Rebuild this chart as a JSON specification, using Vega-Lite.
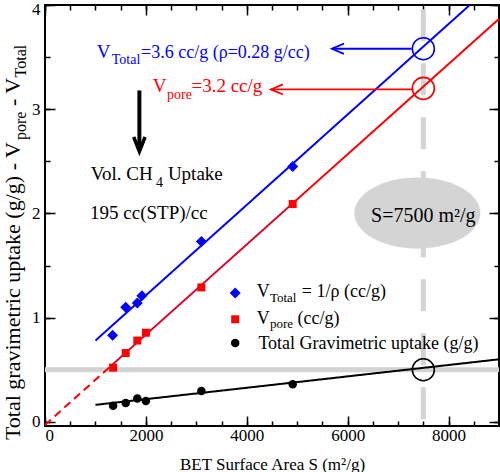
{
  "$schema": "https://vega.github.io/schema/vega-lite/v6.json",
  "width": 454,
  "height": 421,
  "autosize": {"type": "none"},
  "padding": {"left": 45, "top": 5, "right": 1, "bottom": 46},
  "background": "white",
  "config": {
    "font": "Liberation Serif",
    "view": {"stroke": "#000000", "strokeWidth": 2},
    "text": {"font": "Liberation Serif"},
    "axis": {
      "grid": false, "domain": false,
      "labelFont": "Liberation Serif", "labelFontSize": 17, "labelColor": "#000000",
      "tickColor": "#000000", "tickWidth": 1.5,
      "titleFont": "Liberation Serif", "titleFontSize": 17, "titleFontWeight": "normal", "titleColor": "#000000"
    }
  },
  "resolve": {"axis": {"x": "independent", "y": "independent"}},
  "datasets": {
    "pts": [
      {"S": 1340, "v": 0.83, "s": "Total"}, {"S": 1600, "v": 1.10, "s": "Total"}, {"S": 1830, "v": 1.14, "s": "Total"},
      {"S": 1920, "v": 1.21, "s": "Total"}, {"S": 3100, "v": 1.73, "s": "Total"}, {"S": 4910, "v": 2.45, "s": "Total"},
      {"S": 1350, "v": 0.52, "s": "pore"}, {"S": 1600, "v": 0.66, "s": "pore"}, {"S": 1830, "v": 0.78, "s": "pore"},
      {"S": 2000, "v": 0.855, "s": "pore"}, {"S": 3100, "v": 1.29, "s": "pore"}, {"S": 4910, "v": 2.09, "s": "pore"},
      {"S": 1350, "v": 0.155, "s": "uptake"}, {"S": 1600, "v": 0.18, "s": "uptake"}, {"S": 1830, "v": 0.225, "s": "uptake"},
      {"S": 2000, "v": 0.20, "s": "uptake"}, {"S": 3100, "v": 0.295, "s": "uptake"}, {"S": 4910, "v": 0.36, "s": "uptake"},
      {"S": 3770, "v": 1.236, "s": "Total"}, {"S": 3770, "v": 0.984, "s": "pore"}, {"S": 3770, "v": 0.757, "s": "uptake"}
    ],
    "lns": [
      {"seg": "blue", "s": "Total", "part": "fit", "S": 1000, "v": 0.78}, {"seg": "blue", "s": "Total", "part": "fit", "S": 8420, "v": 4.0},
      {"seg": "redd", "s": "pore", "part": "extrapolated", "S": 0, "v": -0.03}, {"seg": "redd", "s": "pore", "part": "extrapolated", "S": 1290, "v": 0.529},
      {"seg": "red", "s": "pore", "part": "fit", "S": 1290, "v": 0.529}, {"seg": "red", "s": "pore", "part": "fit", "S": 9000, "v": 3.867},
      {"seg": "blk", "s": "uptake", "part": "fit", "S": 1000, "v": 0.163}, {"seg": "blk", "s": "uptake", "part": "fit", "S": 9000, "v": 0.6}
    ],
    "txt": [
      {"x": 1026, "y": 3.496, "t": "V", "s": "Total", "role": "ann"},
      {"x": 1323, "y": 3.433, "t": "Total", "s": "Total", "role": "annsub"},
      {"x": 1905, "y": 3.496, "t": "=3.6 cc/g (ρ=0.28 g/cc)", "s": "Total", "role": "annb"},
      {"x": 2137, "y": 3.161, "t": "V", "s": "pore", "role": "ann"},
      {"x": 2419, "y": 3.10, "t": "pore", "s": "pore", "role": "annsub"},
      {"x": 2903, "y": 3.161, "t": "=3.2 cc/g", "s": "pore", "role": "ann"},
      {"x": 907, "y": 2.323, "t": "Vol. CH", "s": "uptake", "role": "ann"},
      {"x": 2202, "y": 2.258, "t": "4", "s": "uptake", "role": "annsub"},
      {"x": 2436, "y": 2.323, "t": "Uptake", "s": "uptake", "role": "ann"},
      {"x": 893, "y": 1.951, "t": "195 cc(STP)/cc", "s": "uptake", "role": "ann"},
      {"x": 4200, "y": 1.197, "t": "V", "s": "uptake", "role": "leg"},
      {"x": 4458, "y": 1.147, "t": "Total", "s": "uptake", "role": "legsub"},
      {"x": 5091, "y": 1.197, "t": "= 1/ρ (cc/g)", "s": "uptake", "role": "leg"},
      {"x": 4200, "y": 0.9425, "t": "V", "s": "uptake", "role": "leg"},
      {"x": 4458, "y": 0.897, "t": "pore", "s": "uptake", "role": "legsub"},
      {"x": 5006, "y": 0.9425, "t": "(cc/g)", "s": "uptake", "role": "leg"},
      {"x": 4230, "y": 0.703, "t": "Total Gravimetric uptake (g/g)", "s": "uptake", "role": "leg"},
      {"x": 7500, "y": 1.916, "t": "S=7500 m²/g", "s": "uptake", "role": "ell"},
      {"x": -496, "y": -0.175, "t": "Total gravimetric uptake (g/g) - V", "s": "uptake", "role": "yt"},
      {"x": -377, "y": 2.704, "t": "pore", "s": "uptake", "role": "ytsub"},
      {"x": -496, "y": 3.030, "t": "- V", "s": "uptake", "role": "yt"},
      {"x": -377, "y": 3.305, "t": "Total", "s": "uptake", "role": "ytsub"}
    ]
  },
  "layer": [
    {
      "data": {"values": [{"v": 0.5}]},
      "mark": {"type": "rule", "color": "#d3d3d3", "strokeWidth": 5},
      "encoding": {
        "y": {"field": "v", "type": "quantitative", "scale": {"domain": [-0.04, 4], "nice": false, "zero": false},
              "axis": {"orient": "left", "values": [0, 1, 2, 3, 4], "tickSize": -10, "labelPadding": 15, "title": null,
                       "labelFlush": 1, "labelFlushOffset": 4,
                       "labelFont": "Liberation Serif", "labelFontSize": 17}}
      }
    },
    {
      "data": {"values": [{"S": 7500, "v": 3.96, "v2": 0}]},
      "mark": {"type": "rule", "color": "#d3d3d3", "strokeWidth": 5, "strokeDash": [32, 22]},
      "encoding": {
        "x": {"field": "S", "type": "quantitative", "scale": {"domain": [0, 9000], "nice": false, "zero": false},
              "axis": {"orient": "bottom", "values": [0, 2000, 4000, 6000, 8000], "format": "d", "tickSize": -10, "labelPadding": 11,
                       "labelFont": "Liberation Serif", "labelFontSize": 17,
                       "title": "BET Surface Area S (m²/g)", "titlePadding": 13, "titleFont": "Liberation Serif", "titleFontSize": 17, "titleFontWeight": "normal"}},
        "y": {"field": "v", "type": "quantitative", "scale": {"domain": [-0.04, 4], "nice": false, "zero": false}, "axis": null},
        "y2": {"field": "v2"}
      }
    },
    {
      "data": {"values": [{"S": 7381, "v": 2.004}]},
      "mark": {"type": "point", "shape": "M-1,0A1,0.565,0,1,1,1,0A1,0.565,0,1,1,-1,0Z", "size": 15876, "filled": true, "color": "#d4d4d4", "opacity": 1},
      "encoding": {
        "x": {"field": "S", "type": "quantitative", "scale": {"domain": [0, 9000], "nice": false, "zero": false},
              "axis": {"orient": "bottom", "values": [0, 500, 1000, 1500, 2000, 2500, 3000, 3500, 4000, 4500, 5000, 5500, 6000, 6500, 7000, 7500, 8000, 8500, 9000], "tickSize": -5, "labels": false, "title": null}},
        "y": {"field": "v", "type": "quantitative", "scale": {"domain": [-0.04, 4], "nice": false, "zero": false},
              "axis": {"orient": "left", "values": [0, 0.5, 1, 1.5, 2, 2.5, 3, 3.5, 4], "tickSize": -5, "labels": false, "title": null}}
      }
    },
    {
      "data": {"name": "lns"},
      "mark": {"type": "line", "strokeWidth": 2},
      "encoding": {
        "x": {"field": "S", "type": "quantitative", "scale": {"domain": [0, 9000], "nice": false, "zero": false},
              "axis": {"orient": "top", "values": [0, 2000, 4000, 6000, 8000], "tickSize": -10, "labels": false, "title": null}},
        "y": {"field": "v", "type": "quantitative", "scale": {"domain": [-0.04, 4], "nice": false, "zero": false},
              "axis": {"orient": "right", "values": [0, 1, 2, 3, 4], "tickSize": -10, "labels": false, "title": null}},
        "detail": {"field": "seg"},
        "color": {"field": "s", "type": "nominal", "scale": {"domain": ["Total", "pore", "uptake", "overlay"], "range": ["#0000ff", "#ff0000", "#000000", "#8b1a8b"]}, "legend": null},
        "strokeDash": {"field": "part", "type": "nominal", "scale": {"domain": ["fit", "extrapolated"], "range": [[1, 0], [8, 5]]}, "legend": null}
      }
    },
    {
      "data": {"values": [{"S": 1290, "v": 0.529, "s": "overlay"}, {"S": 4910, "v": 2.096, "s": "overlay"}]},
      "mark": {"type": "line", "strokeWidth": 0.8},
      "encoding": {
        "x": {"field": "S", "type": "quantitative", "scale": {"domain": [0, 9000], "nice": false, "zero": false},
              "axis": {"orient": "top", "values": [0, 500, 1000, 1500, 2000, 2500, 3000, 3500, 4000, 4500, 5000, 5500, 6000, 6500, 7000, 7500, 8000, 8500, 9000], "tickSize": -5, "labels": false, "title": null}},
        "y": {"field": "v", "type": "quantitative", "scale": {"domain": [-0.04, 4], "nice": false, "zero": false},
              "axis": {"orient": "right", "values": [0, 0.5, 1, 1.5, 2, 2.5, 3, 3.5, 4], "tickSize": -5, "labels": false, "title": null}},
        "color": {"field": "s", "type": "nominal", "scale": {"domain": ["Total", "pore", "uptake", "overlay"], "range": ["#0000ff", "#ff0000", "#000000", "#8b1a8b"]}, "legend": null}
      }
    },
    {
      "data": {"values": [{"S": 5688, "S2": 7270, "v": 3.58, "s": "Total"}, {"S": 4478, "S2": 7290, "v": 3.19, "s": "pore"}]},
      "mark": {"type": "rule", "strokeWidth": 1.8},
      "encoding": {
        "x": {"field": "S", "type": "quantitative", "scale": {"domain": [0, 9000], "nice": false, "zero": false}, "axis": null},
        "x2": {"field": "S2"},
        "y": {"field": "v", "type": "quantitative", "scale": {"domain": [-0.04, 4], "nice": false, "zero": false}, "axis": null},
        "color": {"field": "s", "type": "nominal", "scale": {"domain": ["Total", "pore", "uptake", "overlay"], "range": ["#0000ff", "#ff0000", "#000000", "#8b1a8b"]}, "legend": null}
      }
    },
    {
      "data": {"values": [{"S": 5688, "v": 3.58, "s": "Total"}, {"S": 4478, "v": 3.19, "s": "pore"}]},
      "mark": {"type": "point", "shape": "M2,-0.85L0,0L2,0.85", "size": 144, "filled": false, "strokeWidth": 1.8, "opacity": 1},
      "encoding": {
        "x": {"field": "S", "type": "quantitative", "scale": {"domain": [0, 9000], "nice": false, "zero": false}, "axis": null},
        "y": {"field": "v", "type": "quantitative", "scale": {"domain": [-0.04, 4], "nice": false, "zero": false}, "axis": null},
        "color": {"field": "s", "type": "nominal", "scale": {"domain": ["Total", "pore", "uptake", "overlay"], "range": ["#0000ff", "#ff0000", "#000000", "#8b1a8b"]}, "legend": null}
      }
    },
    {
      "data": {"values": [{"S": 1871, "v": 3.18, "v2": 2.62}]},
      "mark": {"type": "rule", "strokeWidth": 4, "color": "#000000"},
      "encoding": {
        "x": {"field": "S", "type": "quantitative", "scale": {"domain": [0, 9000], "nice": false, "zero": false}, "axis": null},
        "y": {"field": "v", "type": "quantitative", "scale": {"domain": [-0.04, 4], "nice": false, "zero": false}, "axis": null},
        "y2": {"field": "v2"}
      }
    },
    {
      "data": {"values": [{"S": 1871, "v": 2.595}]},
      "mark": {"type": "point", "shape": "M-0.95,-2.4L0,0L0.95,-2.4", "size": 144, "filled": false, "strokeWidth": 3.5, "color": "#000000", "opacity": 1},
      "encoding": {
        "x": {"field": "S", "type": "quantitative", "scale": {"domain": [0, 9000], "nice": false, "zero": false}, "axis": null},
        "y": {"field": "v", "type": "quantitative", "scale": {"domain": [-0.04, 4], "nice": false, "zero": false}, "axis": null}
      }
    },
    {
      "data": {"values": [{"S": 7500, "v": 3.58, "s": "Total"}, {"S": 7500, "v": 3.2, "s": "pore"}, {"S": 7500, "v": 0.5, "s": "uptake"}]},
      "mark": {"type": "point", "shape": "circle", "size": 484, "filled": false, "strokeWidth": 1.6, "opacity": 1},
      "encoding": {
        "x": {"field": "S", "type": "quantitative", "scale": {"domain": [0, 9000], "nice": false, "zero": false}, "axis": null},
        "y": {"field": "v", "type": "quantitative", "scale": {"domain": [-0.04, 4], "nice": false, "zero": false}, "axis": null},
        "color": {"field": "s", "type": "nominal", "scale": {"domain": ["Total", "pore", "uptake", "overlay"], "range": ["#0000ff", "#ff0000", "#000000", "#8b1a8b"]}, "legend": null}
      }
    },
    {
      "data": {"name": "pts"},
      "transform": [{"filter": "datum.s == 'Total'"}],
      "mark": {"type": "point", "shape": "diamond", "size": 121, "filled": true, "color": "#0000ff", "opacity": 1},
      "encoding": {
        "x": {"field": "S", "type": "quantitative", "scale": {"domain": [0, 9000], "nice": false, "zero": false}, "axis": null},
        "y": {"field": "v", "type": "quantitative", "scale": {"domain": [-0.04, 4], "nice": false, "zero": false}, "axis": null}
      }
    },
    {
      "data": {"name": "pts"},
      "transform": [{"filter": "datum.s == 'pore'"}],
      "mark": {"type": "point", "shape": "square", "size": 64, "filled": true, "color": "#ff0000", "opacity": 1},
      "encoding": {
        "x": {"field": "S", "type": "quantitative", "scale": {"domain": [0, 9000], "nice": false, "zero": false}, "axis": null},
        "y": {"field": "v", "type": "quantitative", "scale": {"domain": [-0.04, 4], "nice": false, "zero": false}, "axis": null}
      }
    },
    {
      "data": {"name": "pts"},
      "transform": [{"filter": "datum.s == 'uptake'"}],
      "mark": {"type": "point", "shape": "circle", "size": 72, "filled": true, "color": "#000000", "opacity": 1},
      "encoding": {
        "x": {"field": "S", "type": "quantitative", "scale": {"domain": [0, 9000], "nice": false, "zero": false}, "axis": null},
        "y": {"field": "v", "type": "quantitative", "scale": {"domain": [-0.04, 4], "nice": false, "zero": false}, "axis": null}
      }
    },
    {
      "data": {"name": "txt"},
      "transform": [{"filter": "datum.role == 'ann'"}],
      "mark": {"type": "text", "font": "Liberation Serif", "fontSize": 19, "align": "left", "baseline": "alphabetic"},
      "encoding": {
        "x": {"field": "x", "type": "quantitative", "scale": {"domain": [0, 9000], "nice": false, "zero": false}, "axis": null},
        "y": {"field": "y", "type": "quantitative", "scale": {"domain": [-0.04, 4], "nice": false, "zero": false}, "axis": null},
        "text": {"field": "t"},
        "color": {"field": "s", "type": "nominal", "scale": {"domain": ["Total", "pore", "uptake", "overlay"], "range": ["#0000ff", "#ff0000", "#000000", "#8b1a8b"]}, "legend": null}
      }
    },
    {
      "data": {"name": "txt"},
      "transform": [{"filter": "datum.role == 'annb'"}],
      "mark": {"type": "text", "font": "Liberation Serif", "fontSize": 18, "align": "left", "baseline": "alphabetic"},
      "encoding": {
        "x": {"field": "x", "type": "quantitative", "scale": {"domain": [0, 9000], "nice": false, "zero": false}, "axis": null},
        "y": {"field": "y", "type": "quantitative", "scale": {"domain": [-0.04, 4], "nice": false, "zero": false}, "axis": null},
        "text": {"field": "t"},
        "color": {"field": "s", "type": "nominal", "scale": {"domain": ["Total", "pore", "uptake", "overlay"], "range": ["#0000ff", "#ff0000", "#000000", "#8b1a8b"]}, "legend": null}
      }
    },
    {
      "data": {"name": "txt"},
      "transform": [{"filter": "datum.role == 'annsub'"}],
      "mark": {"type": "text", "font": "Liberation Serif", "fontSize": 14, "align": "left", "baseline": "alphabetic"},
      "encoding": {
        "x": {"field": "x", "type": "quantitative", "scale": {"domain": [0, 9000], "nice": false, "zero": false}, "axis": null},
        "y": {"field": "y", "type": "quantitative", "scale": {"domain": [-0.04, 4], "nice": false, "zero": false}, "axis": null},
        "text": {"field": "t"},
        "color": {"field": "s", "type": "nominal", "scale": {"domain": ["Total", "pore", "uptake", "overlay"], "range": ["#0000ff", "#ff0000", "#000000", "#8b1a8b"]}, "legend": null}
      }
    },
    {
      "data": {"name": "txt"},
      "transform": [{"filter": "datum.role == 'leg'"}],
      "mark": {"type": "text", "font": "Liberation Serif", "fontSize": 18, "align": "left", "baseline": "alphabetic"},
      "encoding": {
        "x": {"field": "x", "type": "quantitative", "scale": {"domain": [0, 9000], "nice": false, "zero": false}, "axis": null},
        "y": {"field": "y", "type": "quantitative", "scale": {"domain": [-0.04, 4], "nice": false, "zero": false}, "axis": null},
        "text": {"field": "t"},
        "color": {"field": "s", "type": "nominal", "scale": {"domain": ["Total", "pore", "uptake", "overlay"], "range": ["#0000ff", "#ff0000", "#000000", "#8b1a8b"]}, "legend": null}
      }
    },
    {
      "data": {"name": "txt"},
      "transform": [{"filter": "datum.role == 'legsub'"}],
      "mark": {"type": "text", "font": "Liberation Serif", "fontSize": 13, "align": "left", "baseline": "alphabetic"},
      "encoding": {
        "x": {"field": "x", "type": "quantitative", "scale": {"domain": [0, 9000], "nice": false, "zero": false}, "axis": null},
        "y": {"field": "y", "type": "quantitative", "scale": {"domain": [-0.04, 4], "nice": false, "zero": false}, "axis": null},
        "text": {"field": "t"},
        "color": {"field": "s", "type": "nominal", "scale": {"domain": ["Total", "pore", "uptake", "overlay"], "range": ["#0000ff", "#ff0000", "#000000", "#8b1a8b"]}, "legend": null}
      }
    },
    {
      "data": {"name": "txt"},
      "transform": [{"filter": "datum.role == 'ell'"}],
      "mark": {"type": "text", "font": "Liberation Serif", "fontSize": 20, "align": "center", "baseline": "alphabetic"},
      "encoding": {
        "x": {"field": "x", "type": "quantitative", "scale": {"domain": [0, 9000], "nice": false, "zero": false}, "axis": null},
        "y": {"field": "y", "type": "quantitative", "scale": {"domain": [-0.04, 4], "nice": false, "zero": false}, "axis": null},
        "text": {"field": "t"},
        "color": {"field": "s", "type": "nominal", "scale": {"domain": ["Total", "pore", "uptake", "overlay"], "range": ["#0000ff", "#ff0000", "#000000", "#8b1a8b"]}, "legend": null}
      }
    },
    {
      "data": {"name": "txt"},
      "transform": [{"filter": "datum.role == 'yt'"}],
      "mark": {"type": "text", "font": "Liberation Serif", "fontSize": 22, "align": "left", "baseline": "alphabetic", "angle": 270},
      "encoding": {
        "x": {"field": "x", "type": "quantitative", "scale": {"domain": [0, 9000], "nice": false, "zero": false}, "axis": null},
        "y": {"field": "y", "type": "quantitative", "scale": {"domain": [-0.04, 4], "nice": false, "zero": false}, "axis": null},
        "text": {"field": "t"},
        "color": {"field": "s", "type": "nominal", "scale": {"domain": ["Total", "pore", "uptake", "overlay"], "range": ["#0000ff", "#ff0000", "#000000", "#8b1a8b"]}, "legend": null}
      }
    },
    {
      "data": {"name": "txt"},
      "transform": [{"filter": "datum.role == 'ytsub'"}],
      "mark": {"type": "text", "font": "Liberation Serif", "fontSize": 16, "align": "left", "baseline": "alphabetic", "angle": 270},
      "encoding": {
        "x": {"field": "x", "type": "quantitative", "scale": {"domain": [0, 9000], "nice": false, "zero": false}, "axis": null},
        "y": {"field": "y", "type": "quantitative", "scale": {"domain": [-0.04, 4], "nice": false, "zero": false}, "axis": null},
        "text": {"field": "t"},
        "color": {"field": "s", "type": "nominal", "scale": {"domain": ["Total", "pore", "uptake", "overlay"], "range": ["#0000ff", "#ff0000", "#000000", "#8b1a8b"]}, "legend": null}
      }
    }
  ]
}
